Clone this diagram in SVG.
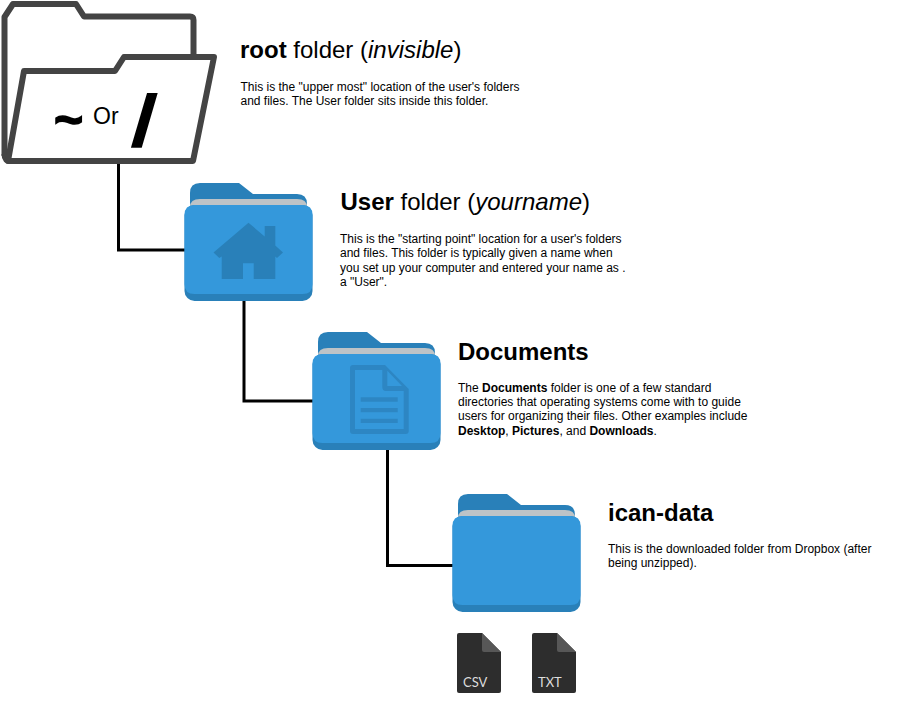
<svg xmlns="http://www.w3.org/2000/svg" width="904" height="703" viewBox="0 0 904 703">
<style>
text{font-family:"Liberation Sans",Arial,sans-serif;fill:#000}
.h{font-size:24px}
.b{font-size:12px}
.bold{font-weight:700}
.it{font-style:italic}
.conn{fill:none;stroke:#000;stroke-width:3}
.ic{fill:#2980b9}
.ic2{fill:#2d86c3}
.file{fill:#2d2d2d}
.fold{fill:#575757}
.ft{font-family:Lato,"Liberation Sans",sans-serif;font-size:13px;fill:#ddd}
.rf{stroke:#444;stroke-width:6;stroke-linejoin:round}
</style>
<defs>
<symbol id="folder" width="129" height="118" viewBox="0 0 129 118" overflow="visible">
<path d="M6 30V10Q6 0 16 0H55L69 11H113Q123 11 123 21V30Z" fill="#2980b9"/>
<path d="M6 30V24Q6 16 16 16H113Q123 16 123 24V30Z" fill="#bdc3c7"/>
<rect x="0.5" y="22" width="128" height="96" rx="10" fill="#2980b9"/>
<path d="M10.500 22H118.500Q128.500 22 128.500 32V101Q128.500 111 118.500 111H10.500Q0.500 111 0.500 101V32Q0.500 22 10.500 22Z" fill="#3498db"/>
</symbol>
<symbol id="doc" width="44" height="60" viewBox="0 0 44 60" overflow="visible">
<path d="M2 0H25L44 19V58Q44 60 42 60H2Q0 60 0 58V2Q0 0 2 0Z" class="file"/>
<path d="M25 0L44 19H27Q25 19 25 17Z" class="fold"/>
</symbol>
</defs>
<g id="connectors">
<path class="conn" d="M118.500 164V250H185"/>
<path class="conn" d="M244 300V401H313"/>
<path class="conn" d="M387.500 449V565.500H453"/>
</g>
<g id="root-folder">
<path class="rf" fill="#fff" d="M4.500 156V17L13 4H76L84 16.500H190Q193.500 16.500 193.500 20V60"/>
<path class="rf" fill="none" d="M4.500 154Q4.500 161 11 161"/>
<path class="rf" fill="#fff" d="M24 71H115L124 57H214L193 161H8Z"/>
<text x="54" y="137" font-size="50" font-weight="700" stroke="#000" stroke-width="1.500">~</text>
<text x="93" y="124" font-size="23">Or</text>
<text transform="translate(132 145) skewX(-6)" font-size="70" font-weight="700" stroke="#000" stroke-width="2.500">/</text>
</g>
<g id="root-label">
<text x="240" y="58" class="h"><tspan class="bold">root</tspan> folder (<tspan class="it">invisible</tspan>)</text>
<text x="240.500" y="91" class="b">This is the "upper most" location of the user's folders</text>
<text x="240.500" y="105" class="b">and files. The User folder sits inside this folder.</text>
</g>
<g id="user-folder">
<use href="#folder" x="184" y="183"/>
<path class="ic" d="M213.500 252.500L248.500 222.700L264.700 236.500V226H275.300V245.500L283 252.500L277 258L275.300 256.500V279H253.700V263.300H243V279H221.700V256.500L219.300 258Z"/>
</g>
<g id="user-label">
<text x="340.500" y="210" class="h"><tspan class="bold">User</tspan> folder (<tspan class="it">yourname</tspan>)</text>
<text x="340" y="243" class="b">This is the "starting point" location for a user's folders</text>
<text x="340" y="257" class="b">and files. This folder is typically given a name when</text>
<text x="340" y="272" class="b">you set up your computer and entered your name as .</text>
<text x="340" y="286" class="b">a "User".</text>
</g>
<g id="documents-folder">
<use href="#folder" x="312" y="332"/>
<path class="ic2" fill-rule="evenodd" d="M353 365H385L408.700 389V431Q408.700 434 405.700 434H353Q350 434 350 431V368Q350 365 353 365ZM355 370V429H403.700V391H386Q382.300 391 382.300 387V370ZM387.300 370.700V386H402ZM360.700 397.300H397.700V401.700H360.700ZM360.700 408H397.700V412.300H360.700ZM360.700 418.700H397.700V423H360.700Z"/>
</g>
<g id="documents-label">
<text x="458" y="360" class="h bold">Documents</text>
<text x="458" y="392" class="b">The <tspan class="bold">Documents</tspan> folder is one of a few standard</text>
<text x="458" y="406" class="b">directories that operating systems come with to guide</text>
<text x="458" y="420" class="b">users for organizing their files. Other examples include</text>
<text x="458" y="435" class="b"><tspan class="bold">Desktop</tspan>, <tspan class="bold">Pictures</tspan>, and <tspan class="bold">Downloads</tspan>.</text>
</g>
<g id="ican-data-folder">
<use href="#folder" x="452" y="494"/>
</g>
<g id="ican-data-label">
<text x="608" y="521" class="h bold">ican-data</text>
<text x="608" y="553" class="b">This is the downloaded folder from Dropbox (after</text>
<text x="608" y="567" class="b">being unzipped).</text>
</g>
<g id="csv-file">
<use href="#doc" x="457" y="633"/>
<text x="463" y="687" class="ft">CSV</text>
</g>
<g id="txt-file">
<use href="#doc" x="532" y="633"/>
<text x="538" y="687" class="ft">TXT</text>
</g>
</svg>
